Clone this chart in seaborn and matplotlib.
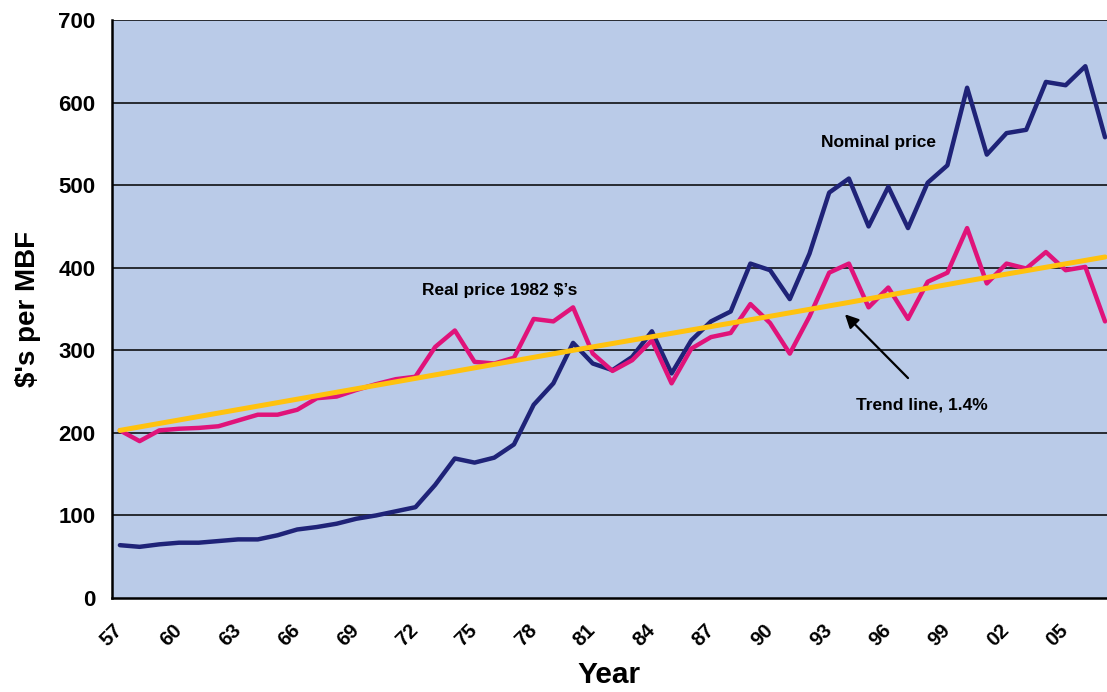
import numpy as np
import pandas as pd
import matplotlib
matplotlib.use("Agg")
import matplotlib.pyplot as plt
import seaborn as sns

years = list(range(1957, 2008))

nominal_price = [
    64, 62, 65, 67, 67, 69, 71, 71, 76, 83,
    86, 90, 96, 100, 105, 110, 137, 169, 164, 170,
    186, 234, 260, 309, 284, 276, 292, 323, 272, 312,
    335, 347, 405, 397, 362, 417, 491, 508, 450, 498,
    448, 503, 524, 618, 537, 563, 567, 625, 621, 644,
    558,
]

real_price = [
    203, 190, 203, 205, 206, 208, 215, 222, 222, 228,
    242, 244, 252, 259, 265, 268, 304, 324, 286, 284,
    291, 338, 335, 352, 296, 275, 288, 312, 260, 302,
    316, 321, 356, 333, 296, 341, 394, 405, 352, 376,
    338, 383, 394, 448, 381, 405, 399, 419, 397, 401,
    335,
]

trend_years = [1957, 1972, 1980, 1989, 1994, 2000, 2007]
trend_values = [203, 266, 300, 337, 358, 384, 413]

tick_years = list(range(1957, 2007, 3))

df = pd.DataFrame({"year": years, "nominal": nominal_price, "real": real_price})
trend = pd.DataFrame({"year": trend_years, "value": trend_values})

sns.set_style("white")
plt.rcParams["font.family"] = ["Liberation Sans", "DejaVu Sans"]
plt.rcParams["text.color"] = "black"
plt.rcParams["axes.labelcolor"] = "black"
plt.rcParams["xtick.color"] = "black"
plt.rcParams["ytick.color"] = "black"

fig = plt.figure(figsize=(11.07, 6.92), dpi=100)
ax = fig.add_axes([0.1012, 0.1358, 0.8988, 0.8353])
ax.set_facecolor("#BACBE8")

sns.lineplot(data=df, x="year", y="nominal", ax=ax, color="#1F2378", linewidth=3.2, zorder=3)
sns.lineplot(data=df, x="year", y="real", ax=ax, color="#E0137A", linewidth=3.2, zorder=4)
sns.lineplot(data=trend, x="year", y="value", ax=ax, color="#FFC20E", linewidth=3.6, zorder=5)

for v in range(100, 701, 100):
    ax.axhline(v, color="black", linewidth=1.1, zorder=1)

ax.set_xticks(tick_years)
ax.set_xticklabels([f"{y % 100:02d}" for y in tick_years], rotation=45,
                   ha="right", va="center", rotation_mode="anchor",
                   fontweight="bold", fontsize=14.5)
ax.set_xticks([y - 0.5 for y in range(1957, 2009)], minor=True)
ax.set_yticks(range(0, 701, 100))
# ticks expand the view, so fix the limits afterwards
ax.set_xlim(1956.6, 2007.1)
ax.set_ylim(0, 700)

ax.tick_params(axis="x", which="major", length=0, pad=21)
ax.tick_params(axis="x", which="minor", length=6, width=1.1, direction="out")
ax.tick_params(axis="y", length=6, width=1.1, direction="out", labelsize=16, pad=6)
for lbl in ax.get_yticklabels():
    lbl.set_fontweight("bold")

for side in ["left", "bottom"]:
    ax.spines[side].set_color("black")
    ax.spines[side].set_linewidth(1.8)
ax.spines["right"].set_visible(False)
ax.spines["top"].set_visible(False)

ax.set_xlabel("Year", fontsize=21.5, fontweight="bold", labelpad=8)
ax.set_ylabel("$'s per MBF", fontsize=20, fontweight="bold", labelpad=12)

ax.text(1995.5, 552, "Nominal price", fontsize=12.5, fontweight="bold",
        ha="center", va="center")
ax.text(1976.3, 373, "Real price 1982 $\u2019s", fontsize=12.5, fontweight="bold",
        ha="center", va="center")
ax.text(1997.7, 234, "Trend line, 1.4%", fontsize=12.5, fontweight="bold",
        ha="center", va="center")
ax.annotate("", xy=(1993.7, 346), xytext=(1997.1, 264),
            arrowprops=dict(arrowstyle="-|>", color="black", lw=1.6,
                            mutation_scale=20),
            zorder=6)

fig.savefig("out.png", dpi=100)
